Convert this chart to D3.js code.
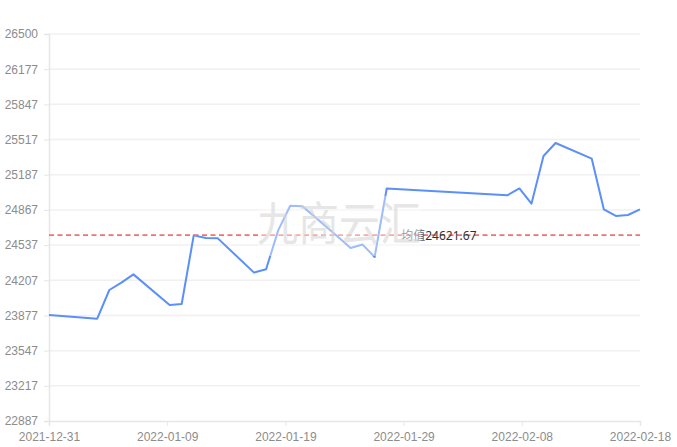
<!DOCTYPE html>
<html><head><meta charset="utf-8">
<script src="https://cdn.jsdelivr.net/npm/d3@7"></script>
<style>
html,body{margin:0;padding:0;background:#fff;}
svg{display:block;font-family:"Noto Sans","Noto Sans CJK SC",sans-serif;}
</style></head>
<body><svg id="c" width="677" height="447"></svg>
<script>
const dates = ["2021-12-31","2022-01-04","2022-01-05","2022-01-06","2022-01-07",
"2022-01-10","2022-01-11","2022-01-12","2022-01-13","2022-01-14",
"2022-01-17","2022-01-18","2022-01-19","2022-01-20","2022-01-21",
"2022-01-24","2022-01-25","2022-01-26","2022-01-27","2022-01-28",
"2022-02-07","2022-02-08","2022-02-09","2022-02-10","2022-02-11",
"2022-02-14","2022-02-15","2022-02-16","2022-02-17","2022-02-18"];
const values = [23877,23842,24110,24179,24256,
23970,23979,24620,24595,24592,
24272,24303,24667,24897,24893,
24602,24502,24534,24418,25058,
24994,25058,24916,25361,25482,
25336,24863,24801,24810,24863];
const yTickLabels = ["22887","23217","23547","23877","24207","24537","24867","25187","25517","25847","26177","26500"];
const yMin = 22887, yMax = 26500;
const meanLabel = "均值";
const watermark = "九商云汇";

const parse = d3.timeParse("%Y-%m-%d");
const fmt = d3.timeFormat("%Y-%m-%d");
const data = dates.map((d,i)=>({date:parse(d), value:values[i]}));
const mean = d3.mean(values);

const L=49, R=640, T=34, B=421;
const svg = d3.select("#c");
const x = d3.scaleTime().domain(d3.extent(data,d=>d.date)).range([L,R]);
const y = d3.scaleLinear().domain([yMin,yMax]).range([B,T]);

// grid
const yTicks = yTickLabels.map((_,i)=>yMin + i*(yMax-yMin)/(yTickLabels.length-1));
svg.append("g").selectAll("line").data(yTicks.slice(1)).join("line")
  .attr("x1",L).attr("x2",R).attr("y1",d=>y(d)).attr("y2",d=>y(d))
  .attr("stroke","#f0f0f0").attr("stroke-width",1.5);

// y axis
const ya = svg.append("g").attr("transform",`translate(${L},0)`)
  .call(d3.axisLeft(y).tickValues(yTicks).tickFormat((d,i)=>yTickLabels[i]).tickSize(5).tickPadding(6));
ya.select(".domain").attr("stroke","#e6e6e6").attr("stroke-width",1.5);
ya.selectAll(".tick line").attr("stroke","#e6e6e6");
ya.selectAll(".tick text").attr("fill","#8c8c8c").style("font-size","12px");

// x axis
const [t0,t1] = x.domain();
const xTicks = d3.range(6).map(i=>new Date(+t0 + i*(t1-t0)/5));
const xa = svg.append("g").attr("transform",`translate(0,${B})`)
  .call(d3.axisBottom(x).tickValues(xTicks).tickFormat(fmt).tickSize(5).tickPadding(6));
xa.select(".domain").attr("stroke","#e6e6e6").attr("stroke-width",1.5);
xa.selectAll(".tick line").attr("stroke","#e6e6e6");
xa.selectAll(".tick text").attr("fill","#8c8c8c").style("font-size","12px");

// line
svg.append("path").datum(data)
  .attr("fill","none").attr("stroke","#5B8FF9").attr("stroke-width",2)
  .attr("stroke-linejoin","round")
  .attr("d",d3.line().x(d=>x(d.date)).y(d=>y(d.value)));

// mean line
svg.append("line").attr("x1",L).attr("x2",R).attr("y1",y(mean)).attr("y2",y(mean))
  .attr("stroke","#f47171").attr("stroke-width",1.8).attr("stroke-dasharray","5,3.5");
const mt = svg.append("text").attr("x",L+(R-L)*0.596).attr("y",y(mean)).attr("dy","0.38em")
  .style("font-size","12px").attr("fill","#333");
mt.append("tspan").attr("fill","#595959").style("font-family","'Noto Sans CJK SC',sans-serif").text(meanLabel);
mt.append("tspan").text(d3.format(".2f")(mean));

// watermark overlay
svg.append("rect").attr("x",258).attr("y",196).attr("width",163).attr("height",60)
  .attr("fill","#fff").attr("opacity",0.4);
svg.append("text").attr("transform","translate(339,240) scale(1,1.12)")
  .attr("text-anchor","middle")
  .style("font-family","'Noto Sans CJK SC',sans-serif").style("font-size","41px")
  .attr("fill","#d6d6d6").attr("opacity",0.6).text(watermark);
</script></body></html>
